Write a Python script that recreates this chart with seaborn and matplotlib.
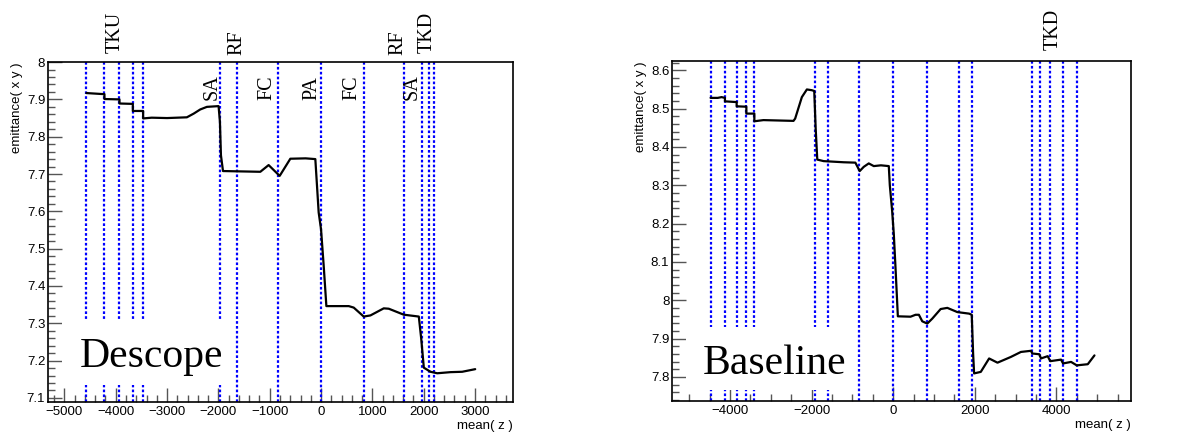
import matplotlib
matplotlib.use("Agg")
import matplotlib.pyplot as plt
import seaborn as sns
from matplotlib.patches import Rectangle
from matplotlib.ticker import MultipleLocator, FuncFormatter

# ---- data ----
z_descope = [-4571, -4220, -4220, -3927, -3927, -3667, -3667, -3466, -3466, -3300,
             -3000, -2614, -2480, -2354, -2224, -1996, -1970, -1950, -1910, -1183,
             -1021, -806, -598, -300, -111, -46, 0, 52, 104, 540,
             637, 832, 962, 1222, 1320, 1612, 1905, 1951, 2003, 2133,
             2263, 2523, 2750, 3004]
emit_descope = [7.917, 7.914, 7.901, 7.900, 7.889, 7.888, 7.869, 7.869, 7.849, 7.851,
                7.850, 7.852, 7.862, 7.873, 7.880, 7.882, 7.840, 7.750, 7.708, 7.706,
                7.724, 7.695, 7.741, 7.742, 7.740, 7.597, 7.552, 7.454, 7.346, 7.346,
                7.342, 7.318, 7.321, 7.340, 7.339, 7.323, 7.318, 7.260, 7.181, 7.170,
                7.166, 7.169, 7.170, 7.177]

z_baseline = [-4475, -4300, -4205, -4123, -4123, -3836, -3836, -3598, -3598, -3402,
              -3402, -3180, -2443, -2402, -2238, -2115, -1992, -1934, -1900, -1860,
              -1705, -1213, -926, -820, -721, -598, -475, -300, -107, -82,
              -25, 16, 57, 115, 426, 549, 631, 713, 836, 959,
              1164, 1328, 1574, 1861, 1926, 1960, 1984, 2148, 2352, 2557,
              2885, 3131, 3377, 3410, 3582, 3623, 3787, 3852, 4115, 4164,
              4361, 4500, 4770, 4934]
emit_baseline = [8.528, 8.528, 8.530, 8.528, 8.519, 8.517, 8.506, 8.505, 8.487, 8.487,
                 8.467, 8.470, 8.468, 8.474, 8.530, 8.550, 8.548, 8.546, 8.450, 8.367,
                 8.363, 8.360, 8.359, 8.337, 8.348, 8.357, 8.350, 8.352, 8.350, 8.300,
                 8.233, 8.172, 8.086, 7.958, 7.957, 7.962, 7.962, 7.945, 7.939, 7.952,
                 7.977, 7.980, 7.969, 7.965, 7.962, 7.860, 7.809, 7.813, 7.848, 7.837,
                 7.852, 7.865, 7.868, 7.861, 7.859, 7.848, 7.854, 7.841, 7.845, 7.835,
                 7.839, 7.830, 7.833, 7.856]

# positions of the dotted markers (planes)
planes_descope = [-4571, -4220, -3929, -3667, -3467, -1960, -1628, -848, 0,
                  838, 1622, 1973, 2096, 2193]
planes_baseline = [-4475, -4123, -3836, -3598, -3402, -1918, -1598, -828, 0,
                   836, 1607, 1926, 3410, 3607, 3852, 4164, 4500]

# element labels: (text, z, bottom in axes fraction)
labels_descope = [("TKU", -4012, 1.026), ("RF", -1634, 1.021), ("SA", -2117, 0.888),
                  ("FC", -1049, 0.888), ("PA", -172, 0.888), ("FC", 608, 0.888),
                  ("RF", 1490, 1.021), ("SA", 1779, 0.888), ("TKD", 2071, 1.026)]
labels_baseline = [("TKD", 3926, 1.032)]

sns.set_style("white")
plt.rcParams['font.family'] = ['Liberation Sans', 'DejaVu Sans']
plt.rcParams['text.color'] = 'black'
plt.rcParams['axes.labelcolor'] = 'black'
plt.rcParams['xtick.color'] = 'black'
plt.rcParams['ytick.color'] = 'black'

fig = plt.figure(figsize=(11.79, 4.33), dpi=100)
ax1 = fig.add_axes([0.0407, 0.0716, 0.3944, 0.785])
ax2 = fig.add_axes([0.570, 0.0739, 0.3893, 0.785])


def draw_panel(ax, z, emit, planes, labels, name, xlim, ylim, xmaj, xmin_, box):
    for p in planes:
        ax.axvline(p, color='#0000ff', linestyle=(0, (1.2, 1.0)), linewidth=1.6, zorder=2)
    ax.add_patch(Rectangle((box[0], box[1]), box[2], box[3], transform=ax.transAxes,
                           facecolor='white', edgecolor='none', zorder=3))
    sns.lineplot(x=z, y=emit, ax=ax, estimator=None, sort=False, color='black',
                 linewidth=1.6, zorder=4)
    ax.text(box[4], box[5], name, transform=ax.transAxes, family='Liberation Serif',
            fontsize=30, va='baseline', ha='left', zorder=5)
    for txt, zpos, yb in labels:
        ax.text(zpos, yb, txt, transform=ax.get_xaxis_transform(), rotation=90,
                family='Liberation Serif', fontsize=14.5, ha='center', va='bottom',
                clip_on=False, zorder=5)
    ax.set_xlim(*xlim)
    ax.set_ylim(*ylim)
    ax.xaxis.set_major_locator(MultipleLocator(xmaj))
    ax.xaxis.set_minor_locator(MultipleLocator(xmin_))
    ax.yaxis.set_major_locator(MultipleLocator(0.1))
    ax.yaxis.set_minor_locator(MultipleLocator(0.02))
    ax.yaxis.set_major_formatter(FuncFormatter(lambda v, p: f"{v:g}"))
    ax.tick_params(which='major', direction='in', length=10, width=1,
                   bottom=True, left=True, top=False, right=False,
                   labelsize=9.5, pad=3, color='#555555')
    ax.tick_params(which='minor', direction='in', length=5, width=1,
                   bottom=True, left=True, top=False, right=False, color='#555555')
    ax.tick_params(axis='y', pad=2)
    for s in ax.spines.values():
        s.set_linewidth(1.2)
        s.set_color('black')
    ax.set_xlabel('mean( z )', loc='right', fontsize=9.5, labelpad=1)
    ax.set_ylabel('emittance( x y )', loc='top', fontsize=9.5, labelpad=3)


draw_panel(ax1, z_descope, emit_descope, planes_descope, labels_descope, 'Descope',
           (-5320, 3740), (7.089, 8.0), 1000, 200,
           (0.03, 0.05, 0.36, 0.189, 0.069, 0.103))

draw_panel(ax2, z_baseline, emit_baseline, planes_baseline, labels_baseline, 'Baseline',
           (-5420, 5830), (7.737, 8.624), 2000, 500,
           (0.03, 0.032, 0.34, 0.187, 0.0675, 0.079))

fig.savefig('out.png', dpi=100)
